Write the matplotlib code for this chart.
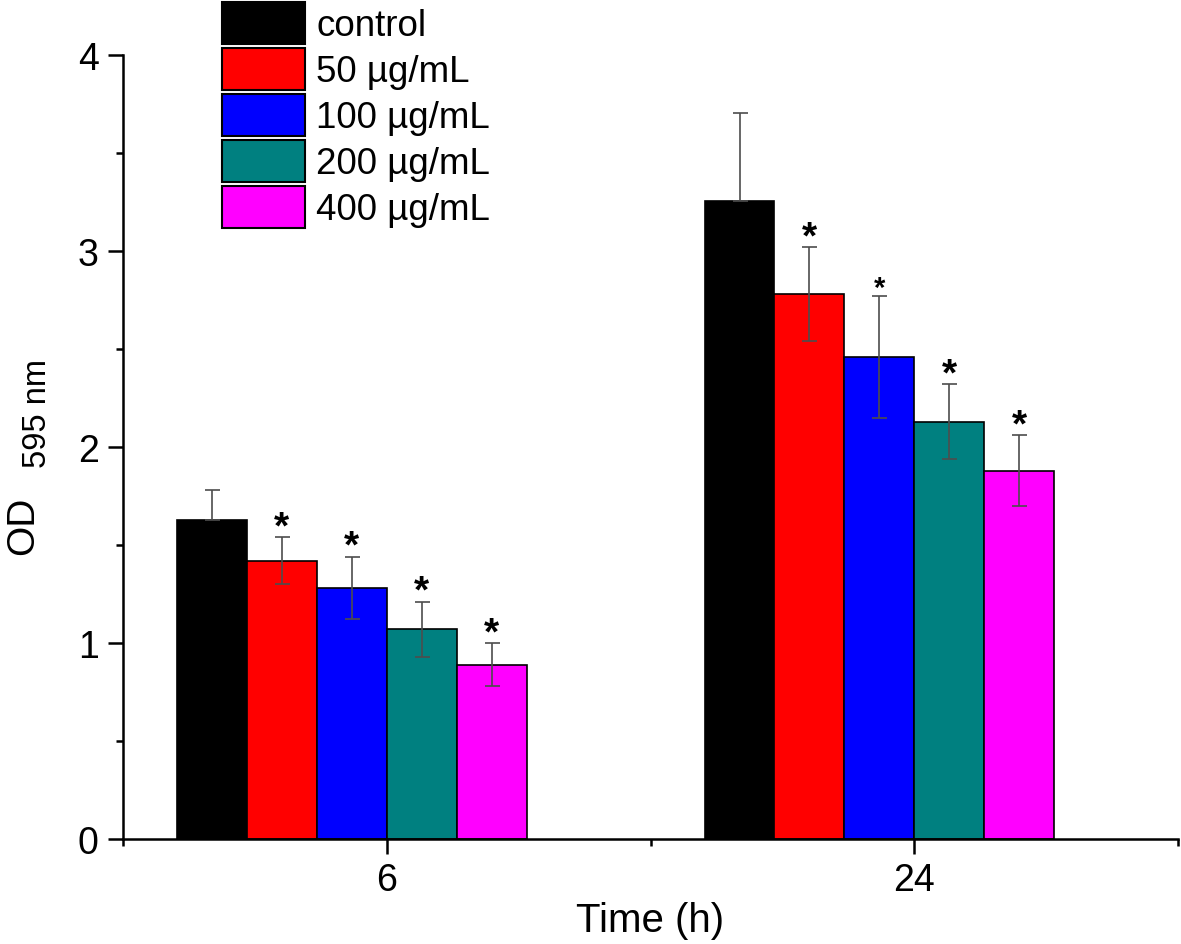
import matplotlib
matplotlib.use('Agg')
import matplotlib.pyplot as plt
import numpy as np
from matplotlib.patches import Patch
from matplotlib.ticker import MultipleLocator

plt.rcParams['font.family'] = ['Liberation Sans', 'DejaVu Sans']

# ---- data ----
times = ['6', '24']
groups = ['control', '50 µg/mL', '100 µg/mL', '200 µg/mL', '400 µg/mL']
colors = ['#000000', '#ff0000', '#0000ff', '#008080', '#ff00ff']

od_6h = [1.63, 1.42, 1.28, 1.07, 0.89]
sd_6h = [0.15, 0.12, 0.16, 0.14, 0.11]
od_24h = [3.255, 2.78, 2.46, 2.13, 1.88]
sd_24h = [0.45, 0.24, 0.31, 0.19, 0.18]
star_6h = ['', '*', '*', '*', '*']
star_24h = ['', '*', '*', '*', '*']
star_size_6h = [28, 28, 28, 28, 28]
star_size_24h = [28, 28, 21, 28, 28]

means = np.array([od_6h, od_24h]).T   # rows: groups, cols: times
sds = np.array([sd_6h, sd_24h]).T
stars = np.array([star_6h, star_24h]).T
star_sizes = np.array([star_size_6h, star_size_24h]).T

W, H = 1181, 945
fig = plt.figure(figsize=(W / 100, H / 100), dpi=100)
ax = fig.add_axes([123 / W, 1 - 840 / H, (1178 - 123) / W, (840 - 56) / H])

pos = np.array([1.0, 3.0])
w = 0.265
for i, (g, c) in enumerate(zip(groups, colors)):
    x = pos + (i - 2.5) * w
    ax.bar(x, means[i], width=w, color=c, edgecolor='black', linewidth=1.2,
           zorder=2, label=g)
    low = np.zeros_like(sds[i]) if i == 0 else sds[i]
    ax.errorbar(x, means[i], yerr=[low, sds[i]], fmt='none', ecolor='#4d4d4d',
                elinewidth=1.2, capsize=5.4, capthick=1.2, zorder=3)
    for j in range(len(pos)):
        if stars[i][j]:
            sz = float(star_sizes[i][j])
            ax.annotate(stars[i][j], xy=(x[j], means[i][j] + sds[i][j]),
                        xytext=(0, 0.02 * (28 - sz)), textcoords='offset points',
                        ha='center', va='baseline', fontsize=sz,
                        fontweight='bold', zorder=4)

ax.set_xlim(0, 4)
ax.set_ylim(0, 4)
ax.set_xticks(pos)
ax.set_xticklabels(times)
ax.set_xticks([0, 2, 4], minor=True)
ax.set_yticks([0, 1, 2, 3, 4])
ax.yaxis.set_minor_locator(MultipleLocator(0.5))

for s in ['top', 'right']:
    ax.spines[s].set_visible(False)
for s in ['left', 'bottom']:
    ax.spines[s].set_linewidth(1.8)

ax.tick_params(axis='both', which='major', direction='out', length=10.5,
               width=1.8, labelsize=27)
ax.tick_params(axis='both', which='minor', direction='out', length=5, width=1.8)
ax.tick_params(axis='y', which='major', pad=7)
ax.tick_params(axis='x', which='major', pad=6)

ax.set_xlabel('Time (h)', fontsize=29, labelpad=2)

# y label: "OD" with smaller subscript "595 nm"
fig.text(23 / W, 1 - 526 / H, 'OD', rotation=90, fontsize=28,
         ha='center', va='center')
fig.text(37 / W, 1 - 414 / H, '595 nm', rotation=90, fontsize=23.5,
         ha='center', va='center')

handles = [Patch(facecolor=c, edgecolor='black', linewidth=1.5) for c in colors]
fs = 26.5
em = fs * 100 / 72
hh = (42 / em - 0.245) / 0.65
fig.legend(handles, groups, loc='upper left',
           bbox_to_anchor=(222 / W, 1 - 3 / H), bbox_transform=fig.transFigure,
           frameon=False, fontsize=fs, borderpad=0, borderaxespad=0,
           handlelength=83 / em, handleheight=hh, labelspacing=4 / em,
           handletextpad=11 / em)

fig.savefig('out.png', dpi=100)
